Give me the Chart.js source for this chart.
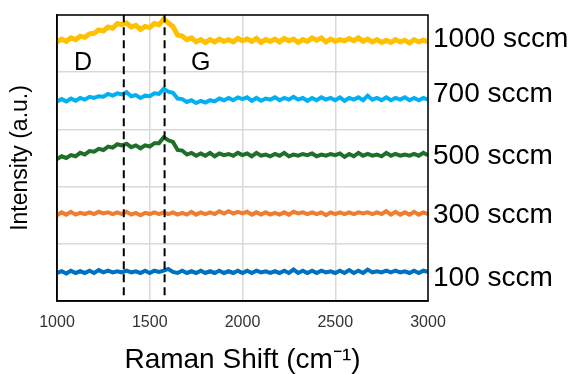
<html lang="en">
<head>
    <meta charset="UTF-8">
    <title>Raman Shift</title>
    <script src="https://cdn.jsdelivr.net/npm/chart.js"></script>
    <style>
        body { margin: 0; background: #fff; }
        #wrap { width: 571px; height: 374px; }
    </style>
</head>
<body>
<div id="wrap"><canvas id="myChart"></canvas></div>
<script>
    // Raman shift grid (cm-1)
    const shift = [
        1000, 1025, 1050, 1075, 1100, 1125, 1150, 1175,
        1200, 1225, 1250, 1275, 1300, 1325, 1350, 1375,
        1400, 1425, 1450, 1475, 1500, 1525, 1550, 1575,
        1600, 1625, 1650, 1675, 1700, 1725, 1750, 1775,
        1800, 1825, 1850, 1875, 1900, 1925, 1950, 1975,
        2000, 2025, 2050, 2075, 2100, 2125, 2150, 2175,
        2200, 2225, 2250, 2275, 2300, 2325, 2350, 2375,
        2400, 2425, 2450, 2475, 2500, 2525, 2550, 2575,
        2600, 2625, 2650, 2675, 2700, 2725, 2750, 2775,
        2800, 2825, 2850, 2875, 2900, 2925, 2950, 2975,
        3000
    ];

    // offset intensities (a.u.), one list per flow rate
    const sccm1000 = [
        4.53, 4.58, 4.54, 4.60, 4.57, 4.63, 4.61, 4.67,
        4.68, 4.74, 4.72, 4.79, 4.77, 4.85, 4.83, 4.86,
        4.79, 4.82, 4.75, 4.80, 4.78, 4.85, 4.83, 4.93,
        4.86, 4.80, 4.65, 4.63, 4.57, 4.60, 4.53, 4.57,
        4.52, 4.57, 4.53, 4.58, 4.54, 4.57, 4.53, 4.59,
        4.55, 4.58, 4.54, 4.59, 4.52, 4.57, 4.54, 4.58,
        4.53, 4.59, 4.55, 4.58, 4.52, 4.57, 4.54, 4.60,
        4.56, 4.60, 4.53, 4.58, 4.54, 4.57, 4.55, 4.59,
        4.55, 4.60, 4.54, 4.58, 4.53, 4.57, 4.52, 4.56,
        4.52, 4.57, 4.53, 4.56, 4.51, 4.57, 4.53, 4.56,
        4.53
    ];
    const sccm700 = [
        3.49, 3.53, 3.49, 3.54, 3.50, 3.55, 3.52, 3.57,
        3.55, 3.58, 3.57, 3.62, 3.59, 3.63, 3.61, 3.65,
        3.58, 3.60, 3.55, 3.59, 3.58, 3.63, 3.62, 3.71,
        3.66, 3.64, 3.54, 3.53, 3.48, 3.51, 3.46, 3.50,
        3.47, 3.51, 3.49, 3.54, 3.51, 3.55, 3.51, 3.56,
        3.53, 3.56, 3.50, 3.55, 3.50, 3.54, 3.52, 3.56,
        3.51, 3.55, 3.52, 3.57, 3.52, 3.55, 3.50, 3.55,
        3.51, 3.56, 3.52, 3.55, 3.51, 3.56, 3.50, 3.55,
        3.52, 3.56, 3.51, 3.59, 3.52, 3.55, 3.51, 3.56,
        3.51, 3.55, 3.52, 3.56, 3.51, 3.55, 3.51, 3.55,
        3.52
    ];
    const sccm500 = [
        2.48, 2.53, 2.50, 2.55, 2.53, 2.59, 2.56, 2.62,
        2.61, 2.66, 2.64, 2.70, 2.68, 2.74, 2.72, 2.75,
        2.69, 2.72, 2.67, 2.72, 2.70, 2.76, 2.76, 2.86,
        2.81, 2.78, 2.64, 2.63, 2.56, 2.59, 2.54, 2.58,
        2.54, 2.59, 2.53, 2.58, 2.55, 2.57, 2.54, 2.59,
        2.55, 2.58, 2.53, 2.59, 2.54, 2.56, 2.53, 2.57,
        2.54, 2.59, 2.53, 2.56, 2.54, 2.57, 2.55, 2.58,
        2.53, 2.56, 2.54, 2.57, 2.55, 2.58, 2.52, 2.57,
        2.53, 2.59, 2.54, 2.57, 2.54, 2.56, 2.53, 2.59,
        2.54, 2.57, 2.54, 2.56, 2.54, 2.57, 2.54, 2.59,
        2.55
    ];
    const sccm300 = [
        1.50, 1.55, 1.51, 1.56, 1.51, 1.54, 1.52, 1.55,
        1.52, 1.56, 1.53, 1.55, 1.52, 1.55, 1.52, 1.56,
        1.51, 1.54, 1.50, 1.54, 1.52, 1.55, 1.52, 1.55,
        1.52, 1.55, 1.51, 1.54, 1.51, 1.56, 1.51, 1.55,
        1.52, 1.55, 1.52, 1.57, 1.53, 1.57, 1.53, 1.56,
        1.53, 1.56, 1.51, 1.55, 1.51, 1.55, 1.51, 1.54,
        1.51, 1.55, 1.51, 1.56, 1.53, 1.55, 1.52, 1.55,
        1.52, 1.55, 1.50, 1.55, 1.52, 1.55, 1.52, 1.55,
        1.52, 1.55, 1.53, 1.55, 1.52, 1.55, 1.52, 1.57,
        1.51, 1.56, 1.51, 1.55, 1.51, 1.56, 1.51, 1.55,
        1.52
    ];
    const sccm100 = [
        0.49, 0.52, 0.48, 0.53, 0.49, 0.52, 0.49, 0.53,
        0.49, 0.54, 0.50, 0.53, 0.50, 0.52, 0.50, 0.53,
        0.50, 0.52, 0.49, 0.53, 0.49, 0.53, 0.51, 0.53,
        0.56, 0.51, 0.49, 0.53, 0.49, 0.52, 0.49, 0.53,
        0.49, 0.52, 0.49, 0.53, 0.49, 0.52, 0.49, 0.53,
        0.49, 0.53, 0.49, 0.53, 0.50, 0.52, 0.49, 0.52,
        0.49, 0.53, 0.49, 0.55, 0.49, 0.53, 0.49, 0.53,
        0.49, 0.53, 0.50, 0.52, 0.49, 0.53, 0.49, 0.54,
        0.49, 0.53, 0.49, 0.55, 0.50, 0.52, 0.50, 0.53,
        0.50, 0.53, 0.50, 0.52, 0.49, 0.53, 0.49, 0.53,
        0.51
    ];

    const seriesNames = ['1000 sccm', '700 sccm', '500 sccm', '300 sccm', '100 sccm'];
    const seriesLevel = [4.58, 3.61, 2.53, 1.50, 0.40];   // where each name sits on the right
    const xTicks = [1000, 1500, 2000, 2500, 3000];

    // D and G band positions
    const bandNames = ['D', 'G'];
    const bandShift = [1360, 1580];
    const bandLabelShift = [1140, 1775];
    const bandLabelLevel = 4.16;

    const font = "'Liberation Sans', Arial, sans-serif";

    function pts(ys) {
        return ys.map((y, i) => ({ x: shift[i], y: y }));
    }

    let bandLines = bandShift.map(s => ({
        data: [{ x: s, y: 0.1 }, { x: s, y: 5 }],
        borderColor: '#000',
        borderWidth: 2,
        borderDash: [8, 5],
        pointRadius: 0,
        order: -1
    }));

    let lines = [
        { label: seriesNames[0], data: pts(sccm1000), borderColor: '#FFC000', borderWidth: 5 },
        { label: seriesNames[1], data: pts(sccm700), borderColor: '#00B0F0', borderWidth: 4 },
        { label: seriesNames[2], data: pts(sccm500), borderColor: '#1F6E2A', borderWidth: 4 },
        { label: seriesNames[3], data: pts(sccm300), borderColor: '#ED7D31', borderWidth: 4 },
        { label: seriesNames[4], data: pts(sccm100), borderColor: '#0070C0', borderWidth: 4 }
    ].map(d => Object.assign(d, { pointRadius: 0, tension: 0 }));

    // frame round the plot + D/G letters
    const extras = {
        id: 'extras',
        afterDatasetsDraw(chart) {
            const c = chart.ctx, a = chart.chartArea;
            const xs = chart.scales.x, ys = chart.scales.y;
            c.save();
            c.fillStyle = '#000';
            c.font = "25px " + font;
            c.textAlign = 'center';
            c.textBaseline = 'middle';
            bandNames.forEach((n, i) => {
                c.fillText(n, xs.getPixelForValue(bandLabelShift[i]), ys.getPixelForValue(bandLabelLevel));
            });
            c.strokeStyle = '#000';
            c.lineWidth = 1.5;
            c.strokeRect(a.left, a.top, a.right - a.left, a.bottom - a.top);
            c.restore();
        }
    };

    let ctx = document.getElementById("myChart").getContext("2d");
    let myChart = new Chart(ctx, {
        type: 'line',
        data: { datasets: bandLines.concat(lines) },
        plugins: [extras],
        options: {
            responsive: true,
            maintainAspectRatio: false,
            animation: false,
            layout: { padding: { top: 15, left: 0, right: 0, bottom: 0 } },
            plugins: { legend: { display: false }, tooltip: { enabled: false } },
            scales: {
                x: {
                    type: 'linear',
                    min: 1000,
                    max: 3000,
                    afterBuildTicks: s => { s.ticks = xTicks.map(v => ({ value: v })); },
                    afterFit: s => { s.height = 73; },
                    grid: { color: '#d9d9d9', lineWidth: 1.5, drawTicks: false },
                    border: { color: '#000', width: 1.5 },
                    ticks: {
                        padding: 12,
                        color: '#333',
                        font: { family: font, size: 16 },
                        callback: v => String(v)
                    },
                    title: {
                        display: true,
                        text: 'Raman Shift (cm\u207B\u00B9)',
                        color: '#000',
                        font: { family: font, size: 28, lineHeight: 1 },
                        padding: { top: 0, bottom: 0 }
                    }
                },
                y: {
                    min: 0,
                    max: 5,
                    afterFit: s => { s.width = 57; },
                    ticks: { display: false, stepSize: 1 },
                    grid: { color: '#d9d9d9', lineWidth: 1.5, drawTicks: false },
                    border: { color: '#000', width: 1.5 },
                    title: {
                        display: true,
                        text: 'Intensity (a.u.)',
                        color: '#000',
                        font: { family: font, size: 23 },
                        padding: { top: 7, bottom: 0 }
                    }
                },
                names: {
                    position: 'right',
                    min: 0,
                    max: 5,
                    afterBuildTicks: s => { s.ticks = seriesLevel.map(v => ({ value: v })); },
                    afterFit: s => { s.width = 143; s.paddingTop = 0; s.paddingBottom = 0; },
                    grid: { display: false, drawTicks: false },
                    border: { display: false },
                    ticks: {
                        padding: 5,
                        color: '#000',
                        font: { family: font, size: 28 },
                        callback: (v, i) => seriesNames[i]
                    }
                }
            }
        }
    });
</script>
</body>
</html>
